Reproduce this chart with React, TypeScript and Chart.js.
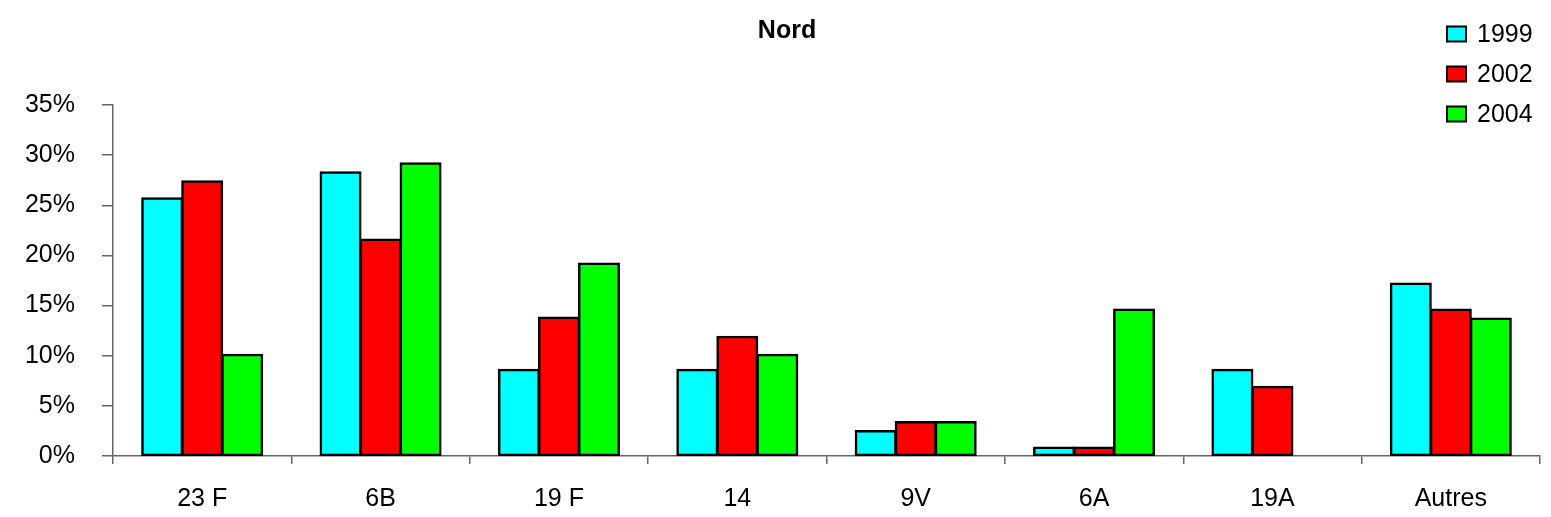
import React, { useEffect, useRef } from 'react';
import { Chart, registerables } from 'chart.js';

Chart.register(...registerables);

const chartTitle = 'Nord';
const categories = ['23 F', '6B', '19 F', '14', '9V', '6A', '19A', 'Autres'];
const seriesLabels = ['1999', '2002', '2004'];
const values1999 = [25.7, 28.3, 8.6, 8.6, 2.5, 0.85, 8.6, 17.2];
const values2002 = [27.4, 21.6, 13.8, 11.9, 3.4, 0.85, 6.9, 14.6];
const values2004: (number | null)[] = [10.1, 29.2, 19.2, 10.1, 3.4, 14.6, null, 13.7];
const seriesColors = ['#00FFFF', '#FF0000', '#00FF00'];
const yMin = 0;
const yMax = 35;
const yStep = 5;

const FONT = '"Liberation Sans", Arial, Helvetica, sans-serif';
const AXIS_COLOR = '#666666';

const overlayPlugin = {
  id: 'overlay',
  afterDraw(chart: any) {
    const ctx = chart.ctx as CanvasRenderingContext2D;
    ctx.save();
    ctx.fillStyle = '#000';
    ctx.font = `bold 25px ${FONT}`;
    ctx.textAlign = 'center';
    ctx.textBaseline = 'middle';
    ctx.fillText(chartTitle, 787, 31);

    ctx.font = `25px ${FONT}`;
    chart.data.datasets.forEach((ds: any, i: number) => {
      const y = 34 + i * 40;
      ctx.fillStyle = ds.backgroundColor;
      ctx.fillRect(1447, y - 7.5, 19, 15);
      ctx.strokeStyle = '#000';
      ctx.lineWidth = 2;
      ctx.strokeRect(1447, y - 7.5, 19, 15);
      ctx.fillStyle = '#000';
      ctx.textAlign = 'left';
      ctx.textBaseline = 'middle';
      ctx.fillText(ds.label, 1477, y + 1.5);
    });
    ctx.restore();
  },
};

export default function App() {
  const canvasRef = useRef<HTMLCanvasElement | null>(null);

  useEffect(() => {
    if (!canvasRef.current) return;
    const seriesValues = [values1999, values2002, values2004];
    const chart = new Chart(canvasRef.current, {
      type: 'bar',
      data: {
        labels: categories,
        datasets: seriesLabels.map((label, i) => ({
          label,
          data: seriesValues[i],
          backgroundColor: seriesColors[i],
          borderColor: '#000',
          borderWidth: 2.5,
          borderSkipped: false,
          inflateAmount: 1,
          barPercentage: 1,
          categoryPercentage: 0.673,
        })),
      },
      options: {
        responsive: false,
        animation: false,
        layout: { padding: { top: 105, right: 11, left: 0, bottom: 0 } },
        plugins: {
          legend: { display: false },
          title: { display: false },
          tooltip: { enabled: false },
        },
        scales: {
          x: {
            offset: true,
            grid: {
              offset: true,
              drawOnChartArea: false,
              drawTicks: true,
              tickLength: 8,
              color: AXIS_COLOR,
              lineWidth: 1.5,
            },
            border: { display: true, color: AXIS_COLOR, width: 1.5 },
            ticks: {
              color: '#000',
              font: { family: FONT, size: 25 },
              padding: 20,
              maxRotation: 0,
              autoSkip: false,
            },
            afterFit(scale: any) {
              scale.height = 61;
            },
          },
          y: {
            min: yMin,
            max: yMax,
            grid: {
              drawOnChartArea: false,
              drawTicks: true,
              tickLength: 11,
              color: AXIS_COLOR,
              lineWidth: 1.5,
            },
            border: { display: true, color: AXIS_COLOR, width: 1.5 },
            ticks: {
              stepSize: yStep,
              color: '#000',
              font: { family: FONT, size: 25 },
              padding: 27,
              callback: (v: any) => `${v}%`,
            },
            afterFit(scale: any) {
              scale.width = 113;
            },
          },
        },
      },
      plugins: [overlayPlugin],
    });
    return () => chart.destroy();
  }, []);

  return (
    <div style={{ position: 'fixed', left: 0, top: 0, width: 1551, height: 517, background: '#fff' }}>
      <canvas ref={canvasRef} width={1551} height={517} style={{ display: 'block' }} />
    </div>
  );
}
